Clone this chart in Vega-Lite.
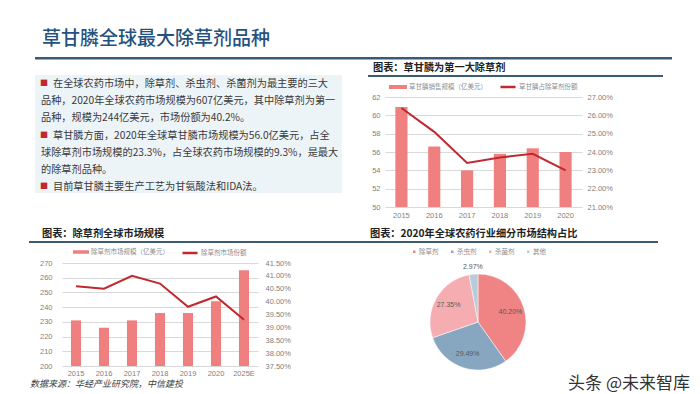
{
  "$schema": "https://vega.github.io/schema/vega-lite/v6.json",
  "background": "white",
  "padding": {"left": 29, "top": 30, "right": 0, "bottom": 0},
  "config": {
    "view": {"stroke": null},
    "font": "Noto Sans CJK SC",
    "axis": {"labelFont": "Liberation Sans"},
    "legend": {"labelFont": "Noto Sans CJK SC", "layout": {"top": {"anchor": "middle", "margin": 12}}}
  },
  "spacing": 0,
  "resolve": {"scale": {"fill": "independent", "stroke": "independent", "color": "independent"}, "legend": {"fill": "independent", "stroke": "independent", "color": "independent"}},
  "vconcat": [
    {
      "spacing": 5,
      "hconcat": [
        {"width": 1, "height": 1, "data": {"values": [{}]}, "mark": {"type": "text", "text": ""}, "encoding": {}},
        {
          "width": 637, "height": 2.5,
          "data": {"values": [{}]},
          "title": {"text": "草甘膦全球最大除草剂品种", "anchor": "start", "frame": "group", "dx": 7, "offset": 8, "fontSize": 19, "fontWeight": 500, "color": "#24527e", "font": "Noto Sans CJK SC"},
          "mark": {"type": "rect", "color": "#395b78"},
          "encoding": {
            "x": {"datum": 0, "type": "quantitative", "scale": {"domain": [0, 1]}, "axis": null},
            "x2": {"datum": 1}
          }
        }
      ]
    },
    {
      "spacing": 26,
      "resolve": {"scale": {"fill": "independent", "stroke": "independent", "color": "independent"}, "legend": {"fill": "independent", "stroke": "independent", "color": "independent"}},
      "hconcat": [
        {
          "spacing": 5,
          "hconcat": [
            {"width": 1, "height": 1, "data": {"values": [{}]}, "mark": {"type": "text", "text": ""}, "encoding": {}},
            {
              "width": 307, "height": 118,
              "view": {"fill": "#edf4f7", "stroke": null},
              "data": {"values": [
                {"line": 1, "bullet": true, "text": "在全球农药市场中，除草剂、杀虫剂、杀菌剂为最主要的三大"},
                {"line": 2, "bullet": false, "text": "品种，2020年全球农药市场规模为607亿美元，其中除草剂为第一"},
                {"line": 3, "bullet": false, "text": "品种，规模为244亿美元，市场份额为40.2%。"},
                {"line": 4, "bullet": true, "text": "草甘膦方面，2020年全球草甘膦市场规模为56.0亿美元，占全"},
                {"line": 5, "bullet": false, "text": "球除草剂市场规模的23.3%，占全球农药市场规模的9.3%，是最大"},
                {"line": 6, "bullet": false, "text": "的除草剂品种。"},
                {"line": 7, "bullet": true, "text": "目前草甘膦主要生产工艺为甘氨酸法和IDA法。"}
              ]},
              "encoding": {
                "x": {"datum": 0, "type": "quantitative", "scale": {"domain": [0, 1]}, "axis": null},
                "y": {"field": "line", "type": "ordinal", "scale": {"type": "point", "padding": 0.437, "align": 0.6, "domain": [1, 2, 3, 4, 5, 6, 7]}, "axis": null}
              },
              "layer": [
                {"transform": [{"filter": "datum.bullet"}], "mark": {"type": "text", "text": "■", "align": "left", "baseline": "middle", "dx": 5, "fontSize": 8, "color": "#c0282e"}},
                {"transform": [{"filter": "datum.bullet"}], "mark": {"type": "text", "align": "left", "baseline": "middle", "dx": 18, "fontSize": 10.2, "color": "#3a3a3a"}, "encoding": {"text": {"field": "text"}}},
                {"transform": [{"filter": "!datum.bullet"}], "mark": {"type": "text", "align": "left", "baseline": "middle", "dx": 6, "fontSize": 10.2, "color": "#3a3a3a"}, "encoding": {"text": {"field": "text"}}}
              ]
            }
          ]
        },
        {
          "spacing": 1,
          "resolve": {"scale": {"fill": "independent", "stroke": "independent", "color": "independent"}, "legend": {"fill": "independent", "stroke": "independent", "color": "independent"}},
          "vconcat": [
            {
              "width": 295, "height": 2,
              "data": {"values": [{}]},
              "title": {"text": "图表：草甘膦为第一大除草剂", "anchor": "start", "frame": "group", "dx": 5, "offset": 1.5, "fontSize": 10.2, "fontWeight": "bold", "color": "#222222"},
              "mark": {"type": "rect", "color": "#3d5a73"},
              "encoding": {
                "x": {"datum": 0, "type": "quantitative", "scale": {"domain": [0, 1]}, "axis": null},
                "x2": {"datum": 1}
              }
            },
            {
              "spacing": 0,
              "resolve": {"scale": {"fill": "independent", "stroke": "independent", "color": "independent"}, "legend": {"fill": "independent", "stroke": "independent", "color": "independent"}},
              "hconcat": [
                {"width": 1, "height": 1, "data": {"values": [{}]}, "mark": {"type": "text", "text": ""}, "encoding": {}},
                {
                  "width": 197, "height": 110,
                  "data": {"values": [
                    {"year": "2015", "sales": 60.9, "share": 0.264},
                    {"year": "2016", "sales": 56.6, "share": 0.251},
                    {"year": "2017", "sales": 54.0, "share": 0.234},
                    {"year": "2018", "sales": 55.8, "share": 0.237},
                    {"year": "2019", "sales": 56.4, "share": 0.239},
                    {"year": "2020", "sales": 56.0, "share": 0.230}
                  ]},
                  "encoding": {
                    "x": {"field": "year", "type": "ordinal", "scale": {"paddingInner": 0.63, "paddingOuter": 0.315}, "axis": {"title": null, "labelAngle": 0, "ticks": false, "domain": false, "labelColor": "#7f7f7f", "labelFontSize": 7.5, "labelPadding": 4, "minExtent": 22}}
                  },
                  "layer": [
                    {
                      "mark": {"type": "bar"},
                      "encoding": {
                        "y": {"field": "sales", "type": "quantitative", "scale": {"domain": [50, 62]}, "axis": {"title": null, "values": [50, 52, 54, 56, 58, 60, 62], "grid": true, "gridColor": "#d9d9d9", "domain": false, "ticks": false, "labelColor": "#7f7f7f", "labelFontSize": 7.5, "labelPadding": 5, "minExtent": 16}},
                        "y2": {"datum": 50},
                        "fill": {"datum": "草甘膦销售规模（亿美元）", "type": "nominal", "scale": {"range": ["#f08080"]}, "legend": {"orient": "top", "title": null, "symbolType": "M-1,-0.22H1V0.22H-1Z", "symbolSize": 324, "symbolStrokeWidth": 0, "labelFontSize": 6.5, "labelColor": "#8c8c8c", "labelOffset": 2, "offset": 5, "padding": 0}}
                      }
                    },
                    {
                      "mark": {"type": "line", "strokeWidth": 2},
                      "encoding": {
                        "y": {"field": "share", "type": "quantitative", "scale": {"domain": [0.21, 0.27]}, "axis": {"orient": "right", "title": null, "format": ".2%", "values": [0.21, 0.22, 0.23, 0.24, 0.25, 0.26, 0.27], "grid": false, "domain": false, "ticks": false, "labelColor": "#7f7f7f", "labelFontSize": 7.5, "labelPadding": 5}},
                        "stroke": {"datum": "草甘膦占除草剂份额", "type": "nominal", "scale": {"range": ["#c0282e"]}, "legend": {"orient": "top", "title": null, "symbolType": "stroke", "symbolSize": 225, "symbolStrokeWidth": 2.5, "labelFontSize": 6.5, "labelColor": "#8c8c8c", "labelOffset": 2, "offset": 5, "padding": 0}}
                      }
                    }
                  ],
                  "resolve": {"scale": {"y": "independent"}}
                }
              ]
            }
          ]
        }
      ]
    },
    {
      "spacing": 0,
      "resolve": {"scale": {"fill": "independent", "stroke": "independent", "color": "independent"}, "legend": {"fill": "independent", "stroke": "independent", "color": "independent"}},
      "hconcat": [
        {
          "spacing": 1,
          "resolve": {"scale": {"fill": "independent", "stroke": "independent", "color": "independent"}, "legend": {"fill": "independent", "stroke": "independent", "color": "independent"}},
          "vconcat": [
            {
              "width": 331, "height": 2,
              "data": {"values": [{}]},
              "title": {"text": "图表：除草剂全球市场规模", "anchor": "start", "frame": "group", "dx": 13, "offset": 1.5, "fontSize": 10.2, "fontWeight": "bold", "color": "#222222"},
              "mark": {"type": "rect", "color": "#3d5a73"},
              "encoding": {
                "x": {"datum": 0, "type": "quantitative", "scale": {"domain": [0, 1]}, "axis": null},
                "x2": {"datum": 1}
              }
            },
            {
              "spacing": 0,
              "resolve": {"scale": {"fill": "independent", "stroke": "independent", "color": "independent"}, "legend": {"fill": "independent", "stroke": "independent", "color": "independent"}},
              "hconcat": [
                {"width": 1, "height": 1, "data": {"values": [{}]}, "mark": {"type": "text", "text": ""}, "encoding": {}},
                {
                  "width": 196, "height": 103,
                  "title": {"text": "数据来源：华经产业研究院，中信建投", "orient": "bottom", "anchor": "start", "frame": "group", "dx": -32, "offset": 3, "fontSize": 9, "fontStyle": "italic", "fontWeight": "normal", "color": "#404040", "font": "Noto Sans CJK SC"},
                  "data": {"values": [
                    {"year": "2015", "sales": 231, "share": 0.406},
                    {"year": "2016", "sales": 226, "share": 0.405},
                    {"year": "2017", "sales": 231, "share": 0.410},
                    {"year": "2018", "sales": 236, "share": 0.407},
                    {"year": "2019", "sales": 236, "share": 0.398},
                    {"year": "2020", "sales": 244, "share": 0.402},
                    {"year": "2025E", "sales": 265, "share": 0.393}
                  ]},
                  "encoding": {
                    "x": {"field": "year", "type": "ordinal", "scale": {"paddingInner": 0.64, "paddingOuter": 0.32}, "axis": {"title": null, "labelAngle": 0, "ticks": false, "domain": false, "labelColor": "#7f7f7f", "labelFontSize": 7.5, "labelPadding": 3}}
                  },
                  "layer": [
                    {
                      "mark": {"type": "bar"},
                      "encoding": {
                        "y": {"field": "sales", "type": "quantitative", "scale": {"domain": [200, 270]}, "axis": {"title": null, "values": [200, 210, 220, 230, 240, 250, 260, 270], "grid": true, "gridColor": "#d9d9d9", "domain": false, "ticks": false, "labelColor": "#7f7f7f", "labelFontSize": 7.5, "labelPadding": 10}},
                        "y2": {"datum": 200},
                        "fill": {"datum": "除草剂市场规模（亿美元）", "type": "nominal", "scale": {"range": ["#f08080"]}, "legend": {"orient": "top", "title": null, "symbolType": "M-1,-0.22H1V0.22H-1Z", "symbolSize": 256, "symbolStrokeWidth": 0, "labelFontSize": 6.5, "labelColor": "#8c8c8c", "labelOffset": 2, "offset": 5, "padding": 0}}
                      }
                    },
                    {
                      "mark": {"type": "line", "strokeWidth": 2},
                      "encoding": {
                        "y": {"field": "share", "type": "quantitative", "scale": {"domain": [0.375, 0.415]}, "axis": {"orient": "right", "title": null, "format": ".2%", "values": [0.375, 0.38, 0.385, 0.39, 0.395, 0.4, 0.405, 0.41, 0.415], "grid": false, "domain": false, "ticks": false, "labelColor": "#7f7f7f", "labelFontSize": 7.5, "labelPadding": 7}},
                        "stroke": {"datum": "除草剂市场份额", "type": "nominal", "scale": {"range": ["#c0282e"]}, "legend": {"orient": "top", "title": null, "symbolType": "stroke", "symbolSize": 225, "symbolStrokeWidth": 2.5, "labelFontSize": 6.5, "labelColor": "#8c8c8c", "labelOffset": 2, "offset": 5, "padding": 0}}
                      }
                    }
                  ],
                  "resolve": {"scale": {"y": "independent"}}
                }
              ]
            }
          ]
        },
        {
          "spacing": 5,
          "resolve": {"scale": {"fill": "independent", "stroke": "independent", "color": "independent"}, "legend": {"fill": "independent", "stroke": "independent", "color": "independent"}},
          "vconcat": [
            {
              "width": 298, "height": 2,
              "data": {"values": [{}]},
              "title": {"text": "图表：2020年全球农药行业细分市场结构占比", "anchor": "start", "frame": "group", "dx": 10, "offset": 1.5, "fontSize": 10.2, "fontWeight": "bold", "color": "#222222"},
              "mark": {"type": "rect", "color": "#3d5a73"},
              "encoding": {
                "x": {"datum": 0, "type": "quantitative", "scale": {"domain": [0, 1]}, "axis": null},
                "x2": {"datum": 1}
              }
            },
            {
              "width": 236, "height": 110,
              "title": {"text": "头条 @未来智库", "orient": "bottom", "anchor": "end", "frame": "group", "dx": 94, "offset": -1, "fontSize": 17, "fontWeight": "normal", "color": "#333333", "font": "Noto Sans CJK SC"},
              "data": {"values": [
                {"cat": "除草剂", "share": 0.402, "idx": 1},
                {"cat": "杀虫剂", "share": 0.2949, "idx": 2},
                {"cat": "杀菌剂", "share": 0.2735, "idx": 3},
                {"cat": "其他", "share": 0.0297, "idx": 4}
              ]},
              "encoding": {
                "theta": {"field": "share", "type": "quantitative", "stack": true},
                "order": {"field": "idx", "type": "quantitative"}
              },
              "layer": [
                {
                  "mark": {"type": "arc", "outerRadius": 48, "stroke": "#ffffff", "strokeWidth": 0.5},
                  "encoding": {
                    "color": {"field": "cat", "type": "nominal", "scale": {"domain": ["除草剂", "杀虫剂", "杀菌剂", "其他"], "range": ["#f08383", "#87a6c0", "#f5adb2", "#b8cddb"]}, "legend": {"orient": "top", "title": null, "direction": "horizontal", "symbolType": "square", "symbolSize": 16, "labelFontSize": 6.5, "labelColor": "#8c8c8c", "labelOffset": 1.5, "columnPadding": 8, "offset": 10, "padding": 0}}
                  }
                },
                {
                  "mark": {"type": "text", "radius": 34, "fontSize": 7, "color": "#595959", "font": "Liberation Sans"},
                  "encoding": {
                    "detail": {"field": "cat", "type": "nominal"},
                    "text": {"condition": {"test": "datum.cat !== '其他'", "field": "share", "type": "quantitative", "format": ".2%"}, "value": ""}
                  }
                },
                {
                  "mark": {"type": "text", "radius": 55, "fontSize": 7, "color": "#595959", "font": "Liberation Sans"},
                  "encoding": {
                    "detail": {"field": "cat", "type": "nominal"},
                    "text": {"condition": {"test": "datum.cat === '其他'", "field": "share", "type": "quantitative", "format": ".2%"}, "value": ""}
                  }
                }
              ]
            }
          ]
        }
      ]
    }
  ]
}
